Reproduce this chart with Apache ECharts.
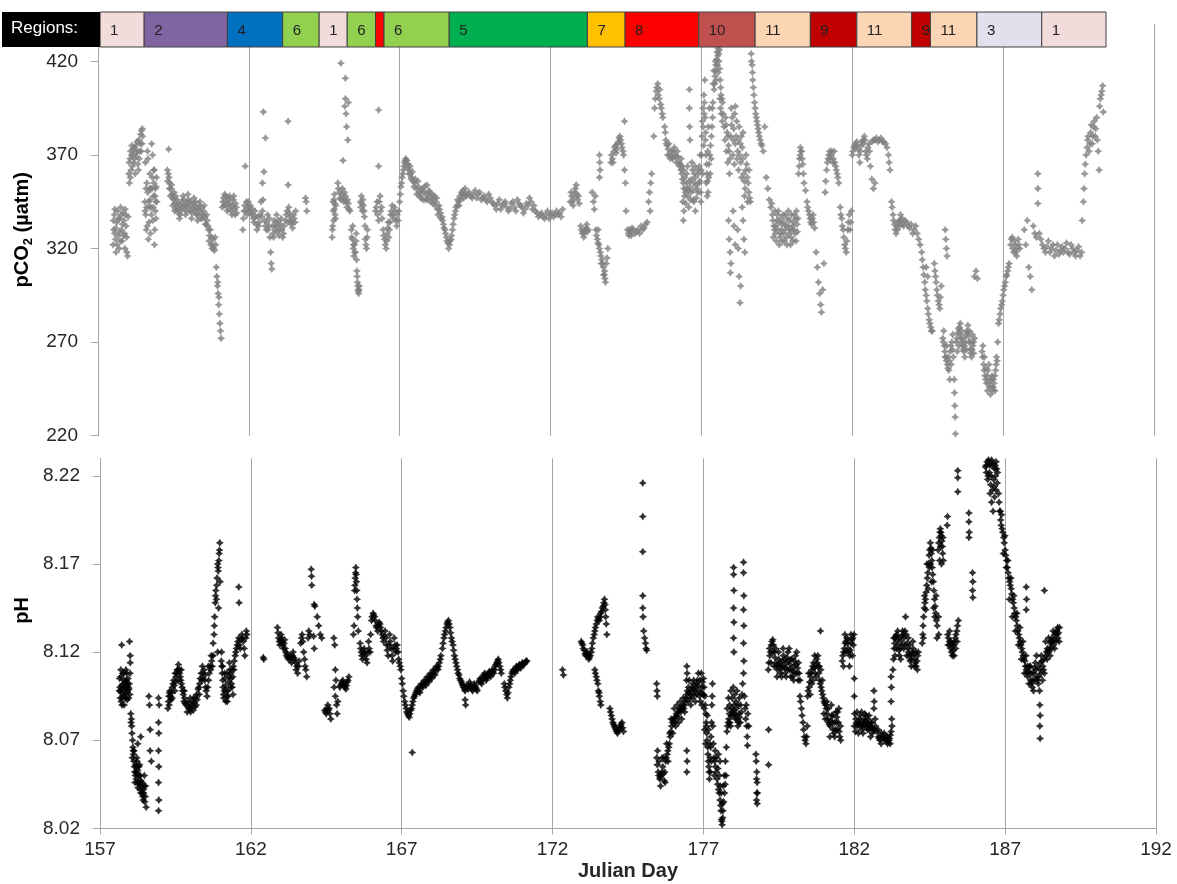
<!DOCTYPE html>
<html><head><meta charset="utf-8">
<script src="https://cdn.jsdelivr.net/npm/echarts@6/dist/echarts.min.js"></script>
<style>html,body{margin:0;padding:0;background:#fff}#c{width:1177px;height:884px}</style>
</head><body><div id="c"></div>
<script>
// ---------- data ----------
const xTicks = [157,162,167,172,177,182,187,192];
const pco2Ticks = [220,270,320,370,420];
const pco2AxisMax = 440;
const phTicks = [8.02,8.07,8.12,8.17,8.22];
const phAxisMax = 8.23;

const regionStart = [157.07,158.53,161.29,163.12,164.33,165.26,166.20,166.48,168.64,173.22,174.47,176.91,178.78,180.61,182.15,183.97,184.59,186.13,188.28];
const regionEnd   = [158.53,161.29,163.12,164.33,165.26,166.20,166.48,168.64,173.22,174.47,176.91,178.78,180.61,182.15,183.97,184.59,186.13,188.28,190.41];
const regionId    = [1,2,4,6,1,6,8,6,5,7,8,10,11,9,11,9,11,3,1];
const regionLabel = ['1','2','4','6','1','6','','6','5','7','8','10','11','9','11','9','11','3','1'];

const pco2Points = [
[157.50,322],[157.52,330],[157.54,338],[157.56,341],[157.58,325],[157.60,318],[157.62,334],[157.65,340],[157.68,327],[157.70,320],[157.72,336],[157.75,342],[157.78,330],[157.80,324],[157.83,339],[157.86,335],[157.88,328],[157.90,341],[157.93,332],[157.96,318],[157.98,316],[158.00,337],
[158.02,360],[158.04,355],[158.06,368],[158.08,372],[158.10,362],[158.12,375],[158.15,370],[158.18,366],[158.20,374],[158.23,360],[158.26,371],[158.29,377],[158.32,365],[158.35,378],[158.38,372],[158.41,381],[158.44,383],[158.46,376],[158.48,380],
[158.55,345],[158.58,338],[158.60,330],[158.62,355],[158.65,350],[158.67,325],[158.70,342],[158.72,360],[158.75,352],[158.78,376],[158.80,358],[158.82,335],[158.84,348],[158.86,362],[158.88,330],[158.90,340],[158.93,353],[158.95,345],
[159.34,373],[159.30,362],[159.35,358],[159.38,355],[159.42,352],[159.45,349],[159.48,347],[159.52,350],[159.55,344],[159.58,341],[159.62,346],[159.66,339],[159.70,336],[159.73,343],
[159.78,345],[159.82,348],[159.86,343],[159.90,338],[159.94,345],[159.98,349],[160.02,344],[160.06,340],[160.10,336],[160.14,342],[160.18,347],[160.22,343],[160.26,338],[160.30,335],[160.34,341],[160.38,345],[160.42,339],[160.46,336],[160.50,340],[160.55,337],[160.58,333],
[160.62,335],[160.66,330],[160.70,327],[160.74,322],[160.78,320],[160.82,325],[160.86,319],[160.90,322],
[160.92,310],[160.94,305],[160.96,300],[160.98,296],[161.00,290],[161.02,285],[161.04,280],[161.06,276],[161.08,272],[160.97,302],[161.01,294],
[161.12,342],[161.16,347],[161.20,349],[161.24,345],[161.28,340],[161.32,344],[161.36,348],[161.40,343],[161.44,338],[161.48,346],[161.52,341],[161.56,344],[161.60,339],
[161.88,364],[161.80,330],[161.84,340],[161.92,345],[161.96,342],[162.00,340],[162.05,343],[162.10,338],[162.15,336],[162.20,340],[162.25,333],[162.30,337],[162.35,334],
[162.48,393],[162.55,379],[162.50,361],[162.45,355],
[162.40,345],[162.45,340],[162.52,335],[162.58,330],[162.62,338],[162.66,332],[162.70,326],[162.72,318],[162.74,312],[162.76,309],[162.80,328],[162.84,335],[162.88,330],[162.92,338],[162.96,332],[163.00,327],[163.05,333],[163.10,330],[163.15,328],
[163.30,388],[163.30,354],[163.22,335],[163.27,340],[163.32,342],[163.36,337],[163.40,333],[163.45,331],[163.50,336],[163.55,340],
[163.90,345],[163.92,340],[163.88,347],
[164.76,326],[164.78,332],[164.80,340],[164.82,346],[164.84,349],[164.86,338],[164.88,343],
[165.05,419],[165.20,411],[165.18,396],[165.12,367],[165.20,400],[165.22,392],[165.24,385],[165.28,378],[165.30,398],
[164.95,355],[165.00,350],[165.05,346],[165.10,352],[165.15,345],[165.20,348],[165.25,342],[165.30,344],[165.35,340],
[165.40,330],[165.43,325],[165.46,320],[165.48,316],[165.50,322],[165.53,318],[165.56,328],[165.58,308],[165.60,302],[165.62,298],[165.64,296],[165.66,300],
[165.70,345],[165.73,348],[165.76,340],[165.80,343],[165.83,337],[165.86,325],[165.90,320],[165.93,330],
[166.30,394],[166.30,364],
[166.20,340],[166.25,345],[166.30,335],[166.35,348],[166.40,342],[166.45,330],[166.50,325],[166.55,320],[166.58,328],[166.62,334],[166.66,330],[166.70,338],[166.75,343],[166.80,336],[166.85,340],[166.90,332],[166.95,335],
[167.00,345],[167.04,353],[167.08,358],[167.12,362],[167.16,366],[167.20,368],[167.24,367],[167.28,365],
[167.32,362],[167.36,360],[167.40,358],[167.45,356],[167.50,355],[167.55,352],[167.60,356],[167.65,350],[167.70,347],[167.75,352],[167.80,350],[167.85,346],[167.90,354],[167.95,348],[168.00,350],
[168.05,347],[168.10,344],[168.15,348],[168.20,345],[168.25,341],[168.30,343],[168.35,339],[168.40,337],[168.45,333],
[168.50,330],[168.55,326],[168.60,323],[168.65,322],[168.70,325],[168.75,330],[168.80,336],[168.85,340],
[168.90,343],[168.95,345],[169.00,348],[169.05,350],[169.10,351],[169.15,349],
[169.20,348],[169.30,350],[169.40,347],[169.50,351],[169.60,349],[169.70,346],[169.80,348],[169.90,345],[170.00,347],
[170.10,344],[170.20,341],[170.30,346],[170.40,343],[170.50,345],[170.60,340],[170.70,344],[170.80,342],[170.90,346],[171.00,343],[171.10,339],[171.20,344],[171.30,347],[171.40,341],[171.50,340],
[171.60,337],[171.70,339],[171.80,336],[171.90,340],[172.00,338],[172.10,337],[172.20,340],[172.30,339],[172.40,341],
[172.65,345],[172.70,348],[172.75,343],[172.80,350],[172.85,354],[172.90,346],[172.95,344],
[173.00,332],[173.05,328],[173.10,326],[173.15,330],[173.20,333],[173.25,330],
[173.38,350],[173.42,345],[173.45,341],[173.48,348],
[173.50,330],[173.55,325],[173.60,322],[173.65,318],[173.70,314],[173.75,310],[173.78,306],[173.80,304],[173.85,312],[173.90,320],
[173.62,370],[173.63,366],[173.64,362],[173.62,358],
[174.00,366],[174.05,368],[174.10,372],[174.15,375],[174.20,373],[174.25,377],[174.30,380],[174.35,376],[174.40,372],[174.45,388],[174.45,362],[174.48,355],[174.50,340],
[174.55,330],[174.60,327],[174.65,329],[174.70,331],[174.80,328],[174.90,330],[175.00,332],[175.10,331],[175.20,334],
[175.25,345],[175.28,350],[175.32,355],[175.35,360],[175.30,340],
[175.45,395],[175.50,404],[175.55,408],[175.60,400],[175.65,397],[175.70,392],[175.72,390],
[175.78,385],[175.82,378],[175.86,375],[175.90,373],[175.95,370],[176.00,372],[176.05,368],[176.10,374],[176.15,369],[176.20,372],[176.25,366],
[176.30,365],[176.35,360],[176.40,355],[176.45,358],[176.50,352],[176.55,348],[176.60,356],[176.65,350],[176.70,362],[176.75,355],[176.80,358],[176.85,352],[176.90,360],[176.95,356],
[176.38,345],[176.40,335],[176.42,340],
[176.60,405],[176.60,395],[176.61,385],[176.62,378],
[177.02,380],[177.05,395],[177.08,402],[177.12,390],[177.15,370],[177.18,360],[177.22,350],[177.25,365],[177.30,375],[177.35,385],[177.38,398],
[177.42,405],[177.45,412],[177.48,418],[177.52,425],[177.55,427],[177.58,420],[177.62,410],[177.65,402],[177.70,398],
[177.80,390],[177.85,382],[177.90,375],[177.95,368],[178.00,386],[178.05,378],[178.10,392],[178.15,380],[178.20,372],[178.25,385],[178.30,366],[178.35,374],[178.40,360],[178.45,352],[178.50,365],[178.55,355],[178.60,347],
[177.90,335],[177.92,325],[177.95,318],[177.96,307],[177.98,312],[178.20,330],[178.22,320],[178.25,305],[178.28,291],[178.30,300],
[178.65,424],[178.68,418],[178.70,410],[178.74,402],[178.78,395],[178.82,390],[178.86,386],[178.90,382],[178.95,378],[179.00,375],[179.05,372],[179.10,385],
[179.15,358],[179.20,352],[179.25,346],[179.30,342],
[179.35,338],[179.40,332],[179.45,328],[179.50,335],[179.55,340],[179.60,326],[179.65,330],[179.70,338],[179.75,324],[179.80,332],[179.85,336],[179.90,328],[179.95,322],[180.00,330],[180.05,334],[180.10,328],[180.15,340],[180.20,336],
[180.22,360],[180.25,368],[180.28,374],[180.32,372],[180.36,365],[180.40,355],[180.45,351],
[180.50,345],[180.55,340],[180.60,336],[180.65,333],[180.70,338],[180.75,331],
[180.80,318],[180.84,310],[180.88,302],[180.92,296],[180.95,290],[180.98,286],[181.02,298],[181.06,312],
[181.10,350],[181.15,362],[181.20,368],[181.25,372],[181.30,370],[181.35,366],[181.40,372],[181.45,364],[181.50,360],[181.55,355],
[181.60,342],[181.65,336],[181.70,330],[181.75,322],[181.80,318],[181.85,330],[181.90,338],[181.95,334],
[182.00,370],[182.05,374],[182.10,376],[182.15,377],[182.20,373],[182.25,366],[182.30,375],[182.35,378],[182.40,380],[182.45,372],[182.50,368],[182.55,376],[182.60,364],[182.70,378],[182.80,379],[182.90,378],[183.00,377],[183.10,376],[183.20,370],[183.25,362],
[182.65,357],[182.70,352],[182.75,355],
[183.30,345],[183.35,338],[183.40,333],[183.45,328],[183.50,330],[183.55,335],[183.60,338],[183.65,336],[183.70,332],[183.80,334],[183.90,331],[184.00,328],[184.10,332],[184.20,325],
[184.30,318],[184.35,310],[184.40,302],[184.45,295],[184.50,288],[184.55,282],[184.60,278],[184.65,276],[184.45,310],[184.50,305],
[184.72,312],[184.76,305],[184.80,298],[184.85,292],[184.90,288],[184.95,300],
[185.00,272],[185.05,268],[185.10,262],[185.15,258],[185.20,255],[185.25,265],[185.30,270],[185.35,262],
[185.08,330],[185.10,325],[185.12,320],[185.14,316],
[185.38,250],[185.39,243],[185.40,236],[185.41,230],[185.42,221],
[185.45,270],[185.50,275],[185.55,278],[185.60,272],[185.65,268],[185.70,265],[185.75,270],[185.80,276],[185.85,273],[185.90,266],[185.95,262],[186.00,268],[186.05,272],
[186.05,305],[186.10,308],[186.15,304],
[186.30,265],[186.35,258],[186.40,252],[186.45,248],[186.50,255],[186.55,246],[186.60,250],[186.65,244],[186.70,248],[186.75,255],[186.80,260],
[186.85,280],[186.90,285],[186.95,290],[187.00,295],[187.05,300],[187.10,305],[187.15,308],[187.20,312],
[187.25,322],[187.30,326],[187.35,318],[187.40,322],[187.45,316],[187.50,325],[187.55,320],
[187.70,330],[187.75,322],[187.80,335],[187.85,310],[187.90,305],[187.95,298],[188.00,332],[188.05,328],[188.10,326],[188.15,360],[188.15,352],[188.15,344],
[188.20,328],[188.30,322],[188.40,318],[188.50,324],[188.60,320],[188.70,316],[188.80,322],[188.90,319],[189.00,318],[189.10,323],[189.20,317],[189.30,320],[189.40,316],[189.50,321],[189.60,318],
[189.62,335],[189.66,345],[189.70,360],[189.75,370],[189.80,378],[189.85,372],[189.90,382],[189.95,376],
[190.00,385],[190.05,380],[190.10,390],[190.15,372],[190.18,362],[190.20,396],[190.25,402],[190.30,407],[190.32,393],
[157.51,335],[157.55,328],[157.59,331],[157.63,322],[157.67,336],[157.71,329],[157.74,324],[157.77,338],[157.81,333],[157.85,327],[157.89,320],[157.92,338],[157.95,326],
[158.03,366],[158.07,358],[158.11,370],[158.14,364],[158.17,373],[158.21,368],[158.25,375],[158.28,369],[158.31,372],[158.34,362],[158.37,368],[158.40,376],[158.43,372],[158.47,384],
[158.57,366],[158.61,342],[158.64,372],[158.69,334],[158.73,346],[158.77,338],[158.81,370],[158.85,355],[158.89,348],[158.92,336],[158.94,358],[158.87,322],
[159.31,356],[159.33,360],[159.37,352],[159.40,348],[159.44,354],[159.47,343],[159.51,346],[159.54,340],[159.57,348],[159.61,342],[159.65,344],[159.69,341],[159.72,338],
[159.76,340],[159.80,342],[159.84,346],[159.88,341],[159.92,343],[159.96,340],[160.00,346],[160.04,342],[160.08,345],[160.12,339],[160.16,344],[160.20,340],[160.24,345],[160.28,341],[160.32,338],[160.36,343],[160.40,336],[160.44,342],[160.48,338],[160.52,343],[160.56,333],[160.60,338],
[160.64,332],[160.68,324],[160.72,330],[160.76,326],[160.80,322],[160.84,320],[160.88,326],
[161.14,345],[161.18,343],[161.22,348],[161.26,343],[161.30,347],[161.34,341],[161.38,346],[161.42,340],[161.46,343],[161.50,348],[161.54,338],[161.58,342],
[161.82,336],[161.86,343],[161.90,340],[161.94,338],[161.98,345],[162.02,342],[162.07,339],[162.12,341],[162.17,334],[162.22,337],[162.27,330],[162.32,332],[162.37,338],
[162.42,337],[162.47,346],[162.54,332],[162.60,334],[162.64,330],[162.68,336],[162.78,332],[162.82,326],[162.86,332],[162.90,334],[162.94,329],[162.98,335],[163.02,330],[163.07,336],[163.12,326],[163.17,332],
[163.24,338],[163.29,334],[163.34,339],[163.38,335],[163.43,334],[163.48,338],[163.53,334],
[164.77,330],[164.79,345],[164.81,335],[164.83,341],[164.85,344],[164.87,336],
[164.97,352],[165.02,347],[165.07,349],[165.12,347],[165.17,350],[165.22,345],[165.27,346],[165.32,341],
[165.41,326],[165.44,332],[165.47,322],[165.51,318],[165.55,324],[165.57,314],[165.59,305],[165.61,300],[165.63,297],[165.65,298],
[165.71,342],[165.74,344],[165.78,346],[165.82,340],[165.85,332],[165.88,322],[165.92,326],
[166.22,342],[166.27,338],[166.32,345],[166.37,340],[166.42,336],[166.47,327],[166.52,322],[166.57,324],[166.60,331],[166.64,326],[166.68,334],[166.72,340],[166.77,338],[166.82,342],[166.87,335],[166.92,338],[166.97,340],
[167.02,349],[167.06,355],[167.10,360],[167.14,364],[167.18,367],[167.22,365],[167.26,363],[167.30,360],[167.34,364],[167.38,357],[167.42,361],[167.47,353],[167.52,357],[167.57,349],[167.62,353],[167.67,348],[167.72,351],[167.77,346],[167.82,353],[167.87,349],[167.92,346],[167.97,351],
[168.02,345],[168.07,349],[168.12,346],[168.17,343],[168.22,347],[168.27,338],[168.32,341],[168.37,336],[168.42,335],[168.47,331],[168.52,328],[168.57,324],[168.62,320],[168.67,324],[168.72,327],[168.77,333],[168.82,338],[168.87,342],
[168.92,346],[168.97,343],[169.02,346],[169.07,349],[169.12,347],[169.17,352],[169.25,349],[169.35,348],[169.45,349],[169.55,347],[169.65,350],[169.75,347],[169.85,346],[169.95,349],
[170.05,345],[170.15,343],[170.25,344],[170.35,341],[170.45,344],[170.55,342],[170.65,341],[170.75,345],[170.85,340],[170.95,344],[171.05,342],[171.15,341],[171.25,343],[171.35,345],[171.45,343],
[171.55,339],[171.65,338],[171.75,337],[171.85,338],[171.95,336],[172.05,339],[172.15,338],[172.25,338],[172.35,337],
[172.68,350],[172.72,345],[172.78,347],[172.82,352],[172.88,349],[172.92,348],[173.02,330],[173.08,329],[173.12,328],[173.18,331],[173.22,329],
[173.52,327],[173.57,323],[173.62,320],[173.67,316],[173.72,312],[173.76,306],[173.79,308],[173.82,302],[173.87,315],[173.58,330],[173.68,312],
[174.02,370],[174.07,366],[174.12,374],[174.17,371],[174.22,376],[174.27,379],[174.32,378],[174.37,374],[174.42,370],
[174.58,328],[174.62,330],[174.68,327],[174.75,330],[174.85,329],[174.95,328],[175.05,330],[175.15,333],
[175.47,400],[175.52,406],[175.57,402],[175.62,405],[175.67,395],[175.42,380],
[175.80,382],[175.84,376],[175.88,370],[175.92,376],[175.97,368],[176.02,369],[176.07,372],[176.12,370],[176.17,366],[176.22,369],[176.27,364],
[176.32,362],[176.37,357],[176.42,352],[176.47,350],[176.52,355],[176.57,351],[176.62,353],[176.67,357],[176.72,351],[176.77,360],[176.82,354],[176.87,362],[176.92,355],[176.97,350],[176.75,345],[176.80,340],
[177.03,388],[177.07,375],[177.10,398],[177.14,382],[177.17,365],[177.20,356],[177.24,358],[177.28,370],[177.33,380],[177.37,390],
[177.44,408],[177.47,415],[177.50,421],[177.54,423],[177.57,424],[177.60,416],[177.64,406],[177.68,400],
[177.82,386],[177.88,380],[177.92,372],[177.97,380],[178.02,390],[178.07,384],[178.12,376],[178.17,388],[178.22,378],[178.27,370],[178.32,380],[178.37,368],[178.42,356],[178.47,362],[178.52,358],[178.57,350],[178.62,345],
[178.66,420],[178.69,414],[178.72,406],[178.76,398],[178.80,392],[178.84,388],[178.88,384],[178.92,380],[178.98,376],
[179.37,335],[179.42,330],[179.47,332],[179.52,338],[179.57,334],[179.62,328],[179.67,333],[179.72,328],[179.77,330],[179.82,326],[179.87,332],[179.92,335],[179.97,326],[180.02,332],[180.07,330],[180.12,336],[180.17,333],
[180.24,364],[180.27,370],[180.30,372],[180.34,368],[180.38,360],[180.52,342],[180.58,338],[180.62,334],[180.68,336],[180.72,334],
[181.12,356],[181.17,366],[181.22,370],[181.27,368],[181.32,372],[181.37,368],[181.42,366],[181.47,362],[181.52,358],
[181.62,338],[181.67,332],[181.72,326],[181.77,320],[181.82,324],[181.87,334],[181.92,330],[181.97,340],
[182.02,372],[182.07,375],[182.12,374],[182.17,375],[182.22,370],[182.27,372],[182.32,377],[182.37,376],[182.42,378],[182.47,370],[182.52,374],[182.57,372],[182.65,377],[182.75,378],[182.85,377],[182.95,379],[183.05,377],[183.15,374],[183.22,366],
[183.32,342],[183.37,335],[183.42,330],[183.47,332],[183.52,334],[183.57,332],[183.62,335],[183.67,333],[183.75,335],[183.85,332],[183.95,333],[184.05,330],[184.15,328],[184.25,322],
[184.32,314],[184.37,306],[184.42,298],[184.47,292],[184.52,285],[184.57,280],[184.62,276],[184.74,308],[184.78,302],[184.82,295],[184.88,290],[184.92,294],
[185.02,270],[185.07,265],[185.12,260],[185.17,256],[185.22,260],[185.27,268],[185.32,266],
[185.47,272],[185.52,277],[185.57,274],[185.62,270],[185.67,266],[185.72,268],[185.77,274],[185.82,275],[185.87,270],[185.92,264],[185.97,266],[186.02,270],
[186.32,262],[186.37,255],[186.42,250],[186.47,252],[186.52,248],[186.57,250],[186.62,246],[186.67,246],[186.72,252],[186.77,258],
[186.87,282],[186.92,288],[186.97,292],[187.02,298],[187.07,302],[187.12,306],[187.17,310],
[187.27,325],[187.32,320],[187.37,324],[187.42,318],[187.47,320],[187.52,322],
[188.25,325],[188.35,320],[188.45,321],[188.55,318],[188.65,322],[188.75,319],[188.85,317],[188.95,321],[189.05,320],[189.15,318],[189.25,322],[189.35,318],[189.45,319],[189.55,316],
[189.68,352],[189.72,365],[189.78,374],[189.82,380],[189.88,376],[189.92,386],[189.97,380],[190.02,388],[190.07,384],[190.12,378],[190.22,400],[190.27,404],
[176.33,368],[176.36,364],[176.41,362],[176.44,348],[176.48,344],[176.51,360],[176.54,364],[176.58,342],[176.63,346],[176.68,366],[176.73,346],[176.78,364],[176.83,347],[176.88,350],[176.93,364],[176.98,345],[176.96,370],[176.99,362],
[177.01,370],[177.04,360],[177.06,385],[177.09,392],[177.11,410],[177.13,378],[177.16,355],[177.19,348],[177.21,372],[177.23,385],[177.26,395],[177.29,360],[177.32,368],[177.36,395],[177.39,408],[177.41,415],[177.46,420],[177.49,410],[177.53,418],[177.56,414],[177.59,426],[177.61,400],[177.63,395],[177.66,392],[177.69,388],[177.72,392],[177.75,385],[177.78,378],[177.83,372],[177.87,366],[177.93,360],[177.99,395],[178.04,370],[178.09,365],[178.13,396],[178.18,368],[178.23,362],[178.29,376],[178.33,358],[178.38,382],[178.43,348],[178.48,370],[178.53,345],[178.58,362],[178.05,340],[178.08,332],[178.12,322],[178.35,342],[178.38,335],[178.41,325],[178.44,318],
[179.33,344],[179.38,326],[179.43,340],[179.48,324],[179.53,330],[179.58,322],[179.63,336],[179.68,324],[179.73,334],[179.78,338],[179.83,322],[179.88,340],[179.93,330],[179.98,338],[180.03,324],[180.08,338],[180.13,324],[180.18,329],
[185.03,276],[185.08,262],[185.13,268],[185.18,262],[185.23,250],[185.28,258],[185.33,274],[185.48,265],[185.53,268],[185.58,280],[185.63,276],[185.68,272],[185.73,262],[185.78,266],[185.83,279],[185.88,276],[185.93,270],[185.98,274],[186.03,264],[186.33,268],[186.38,262],[186.43,256],[186.48,244],[186.53,258],[186.58,242],[186.63,252],[186.68,250],[186.73,244],[186.78,262],[186.82,270],
[158.56,340],[158.59,352],[158.63,332],[158.66,368],[158.68,345],[158.71,352],[158.74,328],[158.76,342],[158.79,352],[158.83,342],[158.85,362],[158.90,352],[158.92,345]
];

const phPoints = [
[157.65,8.105],[157.68,8.098],[157.70,8.092],[157.72,8.101],[157.75,8.108],[157.78,8.095],[157.80,8.090],[157.83,8.103],[157.86,8.110],[157.88,8.097],[157.90,8.093],[157.93,8.105],[157.96,8.099],[158.00,8.108],[157.72,8.124],[157.98,8.126],[158.00,8.118],[158.00,8.114],
[158.02,8.085],[158.05,8.078],[158.08,8.070],[158.10,8.064],[158.12,8.058],[158.15,8.052],[158.18,8.056],[158.20,8.048],[158.22,8.060],[158.25,8.053],[158.28,8.045],[158.30,8.050],[158.33,8.042],[158.36,8.047],[158.40,8.040],[158.43,8.036],[158.46,8.044],[158.50,8.038],[158.53,8.032],[158.25,8.068],[158.35,8.072],
[158.62,8.095],[158.64,8.090],[158.66,8.076],[158.66,8.064],[158.70,8.058],[158.94,8.094],[158.96,8.090],[158.94,8.080],[158.95,8.074],[158.94,8.064],[158.95,8.055],[158.94,8.046],[158.95,8.036],[158.94,8.030],
[159.25,8.088],[159.28,8.095],[159.32,8.098],[159.36,8.093],[159.40,8.100],[159.44,8.104],[159.48,8.098],[159.52,8.106],[159.56,8.110],[159.60,8.113],[159.64,8.108],[159.68,8.104],[159.72,8.100],[159.76,8.096],[159.80,8.094],[159.85,8.090],
[159.90,8.092],[159.95,8.088],[160.00,8.086],[160.05,8.090],[160.10,8.094],[160.15,8.089],[160.20,8.096],[160.25,8.099],
[160.30,8.102],[160.35,8.108],[160.40,8.105],[160.45,8.110],[160.50,8.100],[160.55,8.095],[160.60,8.104],[160.65,8.112],[160.70,8.115],[160.75,8.118],
[160.75,8.125],[160.78,8.130],[160.80,8.140],[160.82,8.148],[160.84,8.155],[160.86,8.150],[160.88,8.162],[160.90,8.170],[160.92,8.166],[160.95,8.176],[160.97,8.182],[160.93,8.145],[160.90,8.120],
[161.02,8.115],[161.05,8.108],[161.08,8.100],[161.10,8.094],[161.14,8.105],[161.18,8.098],[161.22,8.092],[161.26,8.103],[161.30,8.110],[161.34,8.105],[161.38,8.100],[161.42,8.112],
[161.45,8.115],[161.50,8.120],[161.55,8.124],[161.60,8.128],[161.65,8.122],[161.70,8.130],[161.75,8.126],[161.80,8.118],[161.85,8.132],[161.60,8.157],[161.61,8.148],
[162.43,8.116],[162.41,8.117],
[162.88,8.134],[162.92,8.128],[162.96,8.124],[163.00,8.130],[163.04,8.126],[163.08,8.122],[163.12,8.127],[163.16,8.120],
[163.20,8.119],[163.25,8.116],[163.30,8.118],[163.35,8.114],[163.40,8.120],[163.45,8.116],[163.50,8.110],[163.55,8.108],[163.60,8.115],
[163.65,8.125],[163.70,8.130],[163.75,8.120],[163.80,8.112],[163.85,8.106],[163.90,8.128],[163.95,8.130],
[164.00,8.167],[164.01,8.163],[164.02,8.158],
[164.10,8.147],[164.12,8.146],[164.08,8.129],[164.10,8.122],
[164.20,8.140],[164.25,8.135],[164.30,8.130],[164.35,8.128],
[164.45,8.087],[164.50,8.085],[164.55,8.090],[164.60,8.088],[164.65,8.082],
[164.75,8.128],[164.78,8.124],[164.80,8.110],[164.82,8.104],[164.76,8.100],[164.80,8.095],[164.84,8.090],[164.86,8.085],[164.88,8.092],
[164.95,8.100],[165.00,8.102],[165.05,8.104],[165.10,8.101],[165.15,8.099],[165.20,8.103],[165.25,8.106],
[165.40,8.130],[165.42,8.135],[165.44,8.155],[165.46,8.162],[165.48,8.168],[165.50,8.160],[165.52,8.150],[165.54,8.140],[165.56,8.132],
[165.62,8.125],[165.66,8.120],[165.70,8.116],[165.75,8.122],[165.80,8.118],[165.85,8.114],[165.90,8.126],[165.95,8.120],
[166.00,8.138],[166.05,8.142],[166.10,8.140],[166.15,8.135],[166.20,8.132],[166.25,8.137],[166.30,8.134],[166.35,8.130],
[166.40,8.126],[166.45,8.132],[166.50,8.124],[166.55,8.118],[166.60,8.130],[166.65,8.122],[166.70,8.115],[166.75,8.128],[166.80,8.120],[166.85,8.124],[166.90,8.116],[166.95,8.112],
[167.00,8.105],[167.05,8.098],[167.10,8.092],[167.15,8.088],[167.20,8.085],[167.25,8.083],[167.30,8.087],[167.35,8.090],[167.40,8.094],[167.45,8.096],
[167.35,8.063],
[167.50,8.098],[167.55,8.100],[167.60,8.097],[167.65,8.102],[167.70,8.100],[167.75,8.104],[167.80,8.101],[167.85,8.106],[167.90,8.103],[167.95,8.108],[168.00,8.105],[168.05,8.110],[168.10,8.107],[168.15,8.112],[168.20,8.110],[168.25,8.114],[168.30,8.118],
[168.35,8.122],[168.40,8.128],[168.45,8.132],[168.50,8.136],[168.55,8.138],[168.60,8.134],[168.65,8.128],[168.70,8.124],[168.75,8.118],[168.80,8.114],[168.85,8.110],
[168.90,8.107],[168.95,8.104],[169.00,8.102],[169.05,8.100],[169.10,8.098],[169.15,8.101],[169.20,8.099],[169.25,8.103],[169.30,8.100],[169.35,8.098],[169.40,8.102],[169.45,8.100],[169.50,8.098],[169.10,8.093],[169.12,8.090],
[169.55,8.103],[169.60,8.105],[169.65,8.102],[169.70,8.106],[169.75,8.108],[169.80,8.104],[169.85,8.107],[169.90,8.109],[169.95,8.106],[170.00,8.110],[170.05,8.108],[170.10,8.112],[170.15,8.114],[170.20,8.116],[170.25,8.112],[170.30,8.108],
[170.40,8.102],[170.45,8.098],[170.50,8.094],[170.55,8.100],[170.60,8.104],[170.65,8.108],
[170.70,8.110],[170.75,8.108],[170.80,8.112],[170.85,8.110],[170.90,8.113],[170.95,8.111],[171.00,8.114],[171.05,8.113],[171.10,8.114],[171.15,8.115],
[172.33,8.110],[172.36,8.107],
[172.95,8.126],[173.00,8.124],[173.05,8.121],[173.10,8.118],[173.15,8.120],[173.20,8.116],[173.25,8.118],[173.30,8.122],
[173.35,8.128],[173.40,8.132],[173.45,8.136],[173.50,8.140],[173.55,8.138],[173.60,8.142],[173.65,8.145],[173.70,8.148],[173.72,8.150],[173.75,8.144],[173.78,8.136],[173.80,8.130],
[173.40,8.110],[173.45,8.106],[173.50,8.102],[173.52,8.098],[173.55,8.095],[173.60,8.090],
[173.90,8.088],[173.95,8.084],[174.00,8.080],[174.05,8.078],[174.10,8.076],[174.15,8.074],[174.20,8.076],[174.25,8.078],[174.30,8.080],[174.35,8.075],
[174.99,8.216],[174.99,8.197],[174.99,8.177],[174.99,8.152],[174.99,8.145],[175.00,8.140],[175.02,8.132],[175.05,8.128],[175.08,8.125],[175.10,8.122],[175.12,8.121],
[175.45,8.102],[175.46,8.098],[175.47,8.095],
[175.45,8.060],[175.50,8.052],[175.55,8.048],[175.60,8.050],[175.65,8.055],[175.70,8.047],[175.75,8.058],[175.80,8.062],[175.85,8.066],
[175.90,8.072],[175.95,8.078],[176.00,8.082],[176.05,8.080],[176.10,8.085],[176.15,8.083],[176.20,8.088],[176.25,8.086],[176.30,8.090],[176.35,8.088],[176.40,8.092],
[176.45,8.096],[176.50,8.100],[176.55,8.094],[176.60,8.098],[176.65,8.102],[176.70,8.096],[176.75,8.100],[176.80,8.104],[176.85,8.098],[176.90,8.092],[176.95,8.100],
[176.45,8.112],[176.46,8.108],[176.45,8.064],[176.46,8.058],[176.45,8.052],
[177.00,8.105],[177.05,8.095],[177.08,8.085],[177.10,8.078],[177.12,8.070],[177.15,8.062],[177.18,8.055],[177.20,8.048],[177.22,8.060],[177.25,8.072],[177.28,8.090],[177.30,8.102],
[177.35,8.060],[177.40,8.055],[177.45,8.048],[177.50,8.042],[177.55,8.036],[177.58,8.030],[177.60,8.025],[177.62,8.022],[177.65,8.030],[177.70,8.040],[177.75,8.050],[177.50,8.062],[177.55,8.058],
[177.78,8.075],[177.82,8.080],[177.86,8.085],[177.90,8.078],[177.94,8.088],[177.98,8.084],[178.02,8.090],[178.06,8.082],[178.10,8.088],[178.14,8.078],[178.18,8.085],[178.22,8.080],
[178.00,8.168],[178.00,8.164],[178.01,8.155],[178.00,8.145],[178.01,8.137],[178.00,8.128],[178.01,8.120],
[178.33,8.171],[178.33,8.165],[178.34,8.152],[178.33,8.144],[178.34,8.135],[178.33,8.125],[178.34,8.115],[178.33,8.108],
[178.45,8.072],[178.46,8.067],[178.44,8.078],
[178.75,8.058],[178.77,8.052],[178.78,8.046],[178.77,8.040],[178.78,8.034],
[179.15,8.110],[179.20,8.118],[179.25,8.124],[179.30,8.127],[179.35,8.120],[179.40,8.114],[179.45,8.110],[179.50,8.116],[179.55,8.108],
[179.16,8.076],[179.16,8.056],
[179.60,8.112],[179.65,8.118],[179.70,8.108],[179.75,8.114],[179.80,8.120],[179.85,8.110],[179.90,8.116],[179.95,8.106],[180.00,8.112],[180.05,8.118],[180.10,8.108],[180.15,8.114],[180.20,8.104],
[180.20,8.095],[180.25,8.088],[180.30,8.080],[180.35,8.072],[180.40,8.068],[180.44,8.078],
[180.45,8.095],[180.50,8.100],[180.55,8.106],[180.60,8.110],[180.65,8.114],[180.70,8.108],[180.75,8.116],[180.80,8.112],[180.85,8.104],[180.90,8.100],[180.95,8.096],[181.00,8.092],[180.88,8.132],
[181.05,8.090],[181.10,8.085],[181.15,8.080],[181.20,8.078],[181.25,8.084],[181.30,8.076],[181.35,8.072],[181.40,8.080],[181.45,8.086],[181.50,8.075],[181.55,8.070],
[181.60,8.115],[181.65,8.120],[181.70,8.125],[181.75,8.128],[181.80,8.122],[181.85,8.118],[181.90,8.125],[181.95,8.128],
[182.00,8.105],[182.00,8.095],[182.01,8.085],[182.00,8.078],
[182.05,8.082],[182.10,8.078],[182.15,8.080],[182.20,8.084],[182.25,8.076],[182.30,8.080],[182.35,8.085],[182.40,8.078],[182.45,8.082],[182.50,8.076],[182.55,8.080],[182.60,8.074],[182.70,8.078],[182.80,8.072],[182.85,8.070],[182.90,8.074],[183.00,8.070],[183.05,8.072],[183.10,8.068],[183.15,8.070],[183.20,8.073],[183.25,8.078],
[182.65,8.098],[182.66,8.092],[182.65,8.088],
[183.22,8.092],[183.23,8.100],[183.22,8.106],
[183.28,8.110],[183.32,8.122],[183.36,8.128],[183.40,8.130],[183.45,8.124],[183.50,8.118],[183.55,8.126],[183.60,8.132],[183.65,8.128],[183.70,8.140],[183.75,8.125],[183.80,8.120],[183.85,8.115],[183.90,8.118],[183.95,8.122],[184.00,8.116],[184.05,8.112],[184.10,8.118],
[184.25,8.125],[184.28,8.135],[184.32,8.145],[184.36,8.150],[184.40,8.158],[184.44,8.165],[184.48,8.175],[184.52,8.182],[184.55,8.176],[184.58,8.168],[184.62,8.160],[184.66,8.150],[184.70,8.142],[184.75,8.135],[184.80,8.130],
[184.78,8.178],[184.82,8.185],[184.85,8.190],[184.88,8.186],[184.92,8.180],[184.95,8.172],[185.09,8.197],[185.08,8.192],
[185.10,8.130],[185.15,8.126],[185.20,8.122],[185.25,8.118],[185.30,8.124],[185.35,8.128],[185.40,8.132],[185.45,8.138],
[185.43,8.223],[185.43,8.219],[185.43,8.211],
[185.80,8.199],[185.80,8.194],[185.81,8.188],[185.80,8.185],
[185.92,8.165],[185.93,8.160],[185.92,8.155],[185.93,8.151],
[186.35,8.225],[186.40,8.228],[186.45,8.229],[186.50,8.226],[186.55,8.229],[186.60,8.227],[186.65,8.224],[186.70,8.228],[186.75,8.222],[186.42,8.218],[186.52,8.215],[186.62,8.218],
[186.50,8.210],[186.55,8.205],[186.60,8.200],[186.65,8.208],[186.70,8.212],
[186.80,8.205],[186.85,8.195],[186.90,8.190],[186.95,8.185],[187.00,8.178],[187.05,8.172],[187.10,8.165],[187.15,8.160],[187.20,8.156],
[187.25,8.150],[187.30,8.145],[187.35,8.140],[187.40,8.135],[187.45,8.130],[187.50,8.126],[187.55,8.122],[187.60,8.118],
[187.65,8.115],[187.70,8.110],[187.75,8.106],[187.80,8.112],[187.85,8.104],[187.90,8.100],[187.95,8.108],[188.00,8.114],[188.05,8.106],[188.10,8.102],[188.15,8.110],[188.20,8.118],[188.25,8.112],[188.30,8.108],
[187.70,8.157],[187.71,8.150],[187.70,8.144],
[188.15,8.090],[188.16,8.084],[188.15,8.078],[188.16,8.071],
[188.30,8.155],
[188.35,8.118],[188.40,8.122],[188.45,8.120],[188.50,8.125],[188.55,8.128],[188.60,8.124],[188.65,8.130],[188.70,8.132],[188.75,8.128],[188.80,8.134],
[157.66,8.100],[157.69,8.106],[157.71,8.097],[157.74,8.094],[157.77,8.102],[157.79,8.108],[157.82,8.096],[157.84,8.100],[157.87,8.104],[157.89,8.101],[157.92,8.098],[157.95,8.094],[157.97,8.102],
[158.03,8.080],[158.06,8.074],[158.09,8.066],[158.11,8.062],[158.14,8.055],[158.17,8.050],[158.19,8.052],[158.21,8.055],[158.24,8.046],[158.27,8.050],[158.29,8.055],[158.32,8.046],[158.35,8.040],[158.38,8.044],[158.42,8.038],[158.45,8.040],[158.48,8.035],
[159.27,8.092],[159.30,8.097],[159.34,8.095],[159.38,8.097],[159.42,8.102],[159.46,8.101],[159.50,8.103],[159.54,8.108],[159.58,8.110],[159.62,8.110],[159.66,8.106],[159.70,8.102],[159.74,8.098],[159.78,8.092],[159.82,8.091],
[159.92,8.089],[159.97,8.091],[160.02,8.088],[160.07,8.092],[160.12,8.091],[160.17,8.094],[160.22,8.093],[160.28,8.100],[160.32,8.105],[160.38,8.104],[160.42,8.108],[160.47,8.104],[160.52,8.098],[160.57,8.100],[160.62,8.108],[160.67,8.110],[160.72,8.112],
[160.79,8.135],[160.83,8.152],[160.87,8.158],[160.91,8.168],[160.94,8.172],[160.96,8.178],[160.98,8.160],
[161.04,8.112],[161.07,8.104],[161.12,8.098],[161.16,8.101],[161.20,8.095],[161.24,8.098],[161.28,8.106],[161.32,8.108],[161.36,8.102],[161.40,8.106],[161.44,8.110],
[161.48,8.118],[161.52,8.122],[161.57,8.126],[161.62,8.124],[161.67,8.127],[161.72,8.128],[161.78,8.122],[161.83,8.128],[161.87,8.130],
[162.90,8.131],[162.94,8.126],[162.98,8.127],[163.02,8.128],[163.06,8.124],[163.10,8.125],[163.14,8.122],[163.18,8.118],[163.22,8.117],[163.28,8.117],[163.32,8.116],[163.38,8.118],[163.42,8.117],[163.48,8.114],[163.52,8.112],[163.58,8.112],[163.68,8.128],[163.72,8.126],[163.78,8.116],[163.82,8.110],[163.92,8.132],
[164.47,8.086],[164.52,8.088],[164.57,8.087],[164.62,8.085],
[164.97,8.101],[165.02,8.103],[165.07,8.102],[165.12,8.100],[165.17,8.101],[165.22,8.104],
[165.45,8.158],[165.47,8.165],[165.49,8.164],[165.51,8.155],[165.53,8.145],
[165.64,8.122],[165.68,8.118],[165.72,8.119],[165.78,8.120],[165.82,8.116],[165.88,8.120],[165.92,8.122],[165.97,8.130],[166.02,8.140],[166.07,8.141],[166.12,8.138],[166.17,8.134],[166.22,8.135],[166.28,8.136],[166.32,8.132],[166.38,8.128],[166.42,8.129],[166.48,8.128],[166.52,8.121],[166.58,8.124],[166.62,8.126],[166.68,8.118],[166.72,8.122],[166.78,8.124],[166.82,8.122],[166.88,8.120],[166.92,8.114],[166.97,8.110],
[167.02,8.102],[167.07,8.095],[167.12,8.090],[167.17,8.086],[167.22,8.084],[167.27,8.085],[167.32,8.088],[167.37,8.092],[167.42,8.095],[167.47,8.097],
[167.52,8.099],[167.58,8.098],[167.62,8.100],[167.68,8.101],[167.72,8.102],[167.78,8.102],[167.82,8.104],[167.88,8.104],[167.92,8.106],[167.98,8.106],[168.02,8.108],[168.08,8.108],[168.12,8.110],[168.18,8.111],[168.22,8.112],[168.28,8.116],
[168.37,8.125],[168.42,8.130],[168.47,8.134],[168.52,8.137],[168.57,8.136],[168.62,8.131],[168.67,8.126],[168.72,8.121],[168.77,8.116],[168.82,8.112],[168.87,8.108],
[168.92,8.105],[168.98,8.103],[169.02,8.101],[169.08,8.099],[169.18,8.100],[169.22,8.101],[169.28,8.101],[169.32,8.099],[169.38,8.100],[169.42,8.101],[169.48,8.099],
[169.58,8.104],[169.62,8.103],[169.68,8.104],[169.72,8.107],[169.78,8.106],[169.82,8.105],[169.88,8.108],[169.92,8.107],[169.98,8.108],[170.02,8.109],[170.08,8.110],[170.12,8.113],[170.18,8.115],[170.22,8.114],[170.28,8.110],
[170.42,8.100],[170.48,8.096],[170.52,8.097],[170.58,8.102],[170.62,8.106],[170.68,8.109],[170.72,8.109],[170.78,8.110],[170.82,8.111],[170.88,8.112],[170.92,8.112],[170.98,8.113],[171.02,8.113],[171.08,8.114],[171.12,8.115],
[172.97,8.125],[173.02,8.122],[173.08,8.119],[173.12,8.119],[173.18,8.118],[173.22,8.117],[173.28,8.120],[173.32,8.125],[173.38,8.130],[173.42,8.134],[173.48,8.138],[173.52,8.139],[173.58,8.140],[173.62,8.143],[173.68,8.146],[173.74,8.147],[173.76,8.140],
[173.42,8.108],[173.47,8.104],[173.54,8.097],[173.58,8.092],[173.92,8.086],[173.97,8.082],[174.02,8.079],[174.07,8.077],[174.12,8.075],[174.17,8.075],[174.22,8.077],[174.27,8.079],[174.32,8.077],
[175.47,8.056],[175.52,8.050],[175.57,8.049],[175.62,8.052],[175.67,8.051],[175.72,8.052],[175.77,8.060],[175.82,8.064],[175.87,8.068],[175.92,8.075],[175.97,8.080],[176.02,8.081],[176.07,8.083],[176.12,8.084],[176.17,8.086],[176.22,8.087],[176.27,8.088],[176.32,8.089],[176.37,8.090],[176.42,8.094],[176.47,8.098],[176.52,8.097],[176.57,8.096],[176.62,8.100],[176.67,8.099],[176.72,8.098],[176.77,8.102],[176.82,8.101],[176.87,8.095],[176.92,8.097],[176.97,8.103],
[177.02,8.100],[177.06,8.090],[177.09,8.080],[177.11,8.074],[177.14,8.066],[177.16,8.058],[177.19,8.052],[177.24,8.066],[177.27,8.080],[177.29,8.095],[177.37,8.058],[177.42,8.052],[177.47,8.045],[177.52,8.040],[177.57,8.033],[177.61,8.024],[177.64,8.026],[177.67,8.035],[177.72,8.045],[177.80,8.078],[177.84,8.082],[177.88,8.080],[177.92,8.084],[177.96,8.086],[178.00,8.087],[178.04,8.085],[178.08,8.084],[178.12,8.082],[178.16,8.080],[178.20,8.083],
[179.17,8.114],[179.22,8.120],[179.27,8.126],[179.32,8.124],[179.37,8.117],[179.42,8.112],[179.47,8.113],[179.52,8.112],[179.57,8.110],[179.62,8.115],[179.67,8.112],[179.72,8.111],[179.77,8.117],[179.82,8.115],[179.87,8.113],[179.92,8.110],[179.97,8.109],[180.02,8.115],[180.07,8.113],[180.12,8.111],[180.17,8.108],
[180.22,8.092],[180.27,8.084],[180.32,8.076],[180.37,8.070],[180.42,8.072],[180.47,8.098],[180.52,8.103],[180.57,8.108],[180.62,8.112],[180.67,8.111],[180.72,8.112],[180.77,8.114],[180.82,8.108],[180.87,8.102],[180.92,8.098],[180.97,8.094],[181.02,8.091],[181.07,8.088],[181.12,8.082],[181.17,8.079],[181.22,8.081],[181.27,8.080],[181.32,8.074],[181.37,8.076],[181.42,8.083],[181.47,8.080],[181.52,8.072],
[181.62,8.118],[181.67,8.122],[181.72,8.126],[181.77,8.125],[181.82,8.120],[181.87,8.121],[181.92,8.127],[181.97,8.124],
[182.07,8.080],[182.12,8.079],[182.17,8.082],[182.22,8.080],[182.27,8.078],[182.32,8.082],[182.37,8.081],[182.42,8.080],[182.47,8.079],[182.52,8.078],[182.57,8.077],[182.62,8.076],[182.67,8.076],[182.75,8.075],[182.82,8.071],[182.87,8.072],[182.95,8.072],[183.02,8.071],[183.07,8.070],[183.12,8.069],[183.17,8.071],[183.22,8.075],
[183.30,8.116],[183.34,8.125],[183.38,8.129],[183.42,8.127],[183.48,8.121],[183.52,8.122],[183.58,8.129],[183.62,8.130],[183.68,8.132],[183.72,8.130],[183.78,8.122],[183.82,8.118],[183.88,8.116],[183.92,8.120],[183.98,8.119],[184.02,8.114],[184.08,8.115],[184.12,8.120],
[184.27,8.130],[184.30,8.140],[184.34,8.148],[184.38,8.154],[184.42,8.162],[184.46,8.170],[184.50,8.178],[184.54,8.179],[184.57,8.172],[184.60,8.164],[184.64,8.155],[184.68,8.146],[184.72,8.138],[184.80,8.182],[184.84,8.188],[184.87,8.188],[184.90,8.183],[184.93,8.176],
[185.12,8.128],[185.17,8.124],[185.22,8.120],[185.27,8.121],[185.32,8.126],[185.37,8.130],[185.42,8.135],
[186.37,8.226],[186.47,8.227],[186.57,8.226],[186.67,8.226],[186.72,8.224],[186.82,8.200],[186.87,8.192],[186.92,8.188],[186.97,8.182],[187.02,8.175],[187.07,8.168],[187.12,8.162],[187.17,8.158],[187.22,8.153],[187.27,8.148],[187.32,8.142],[187.37,8.138],[187.42,8.132],[187.47,8.128],[187.52,8.124],[187.57,8.120],
[187.62,8.116],[187.67,8.112],[187.72,8.108],[187.77,8.109],[187.82,8.108],[187.87,8.102],[187.92,8.104],[187.97,8.111],[188.02,8.110],[188.07,8.104],[188.12,8.106],[188.17,8.114],[188.22,8.115],[188.27,8.110],[188.37,8.120],[188.42,8.121],[188.47,8.122],[188.52,8.126],[188.57,8.126],[188.62,8.127],[188.67,8.131],[188.72,8.130],[188.77,8.131],
[157.64,8.098],[157.67,8.094],[157.69,8.110],[157.73,8.090],[157.76,8.099],[157.79,8.104],[157.81,8.100],[157.85,8.094],[157.88,8.108],[157.91,8.102],[157.94,8.100],[157.99,8.096],
[158.04,8.082],[158.07,8.060],[158.13,8.064],[158.16,8.046],[158.23,8.058],[158.26,8.043],[158.31,8.056],[158.34,8.050],[158.39,8.046],[158.44,8.042],[158.47,8.050],[158.51,8.044],
[176.44,8.104],[176.49,8.092],[176.53,8.104],[176.58,8.090],[176.63,8.094],[176.68,8.104],[176.73,8.092],[176.78,8.096],[176.83,8.108],[176.88,8.104],[176.93,8.108],[176.98,8.096],[176.95,8.090],
[177.01,8.096],[177.03,8.088],[177.04,8.076],[177.07,8.068],[177.13,8.084],[177.17,8.076],[177.21,8.068],[177.23,8.052],[177.26,8.058],[177.31,8.078],[177.33,8.068],[177.36,8.050],[177.39,8.064],[177.43,8.060],[177.48,8.054],[177.53,8.050],[177.56,8.044],[177.59,8.040],[177.63,8.034],[177.66,8.044],[177.69,8.050],[177.73,8.058],[177.76,8.066],[177.79,8.088],[177.83,8.094],[177.87,8.090],[177.91,8.098],[177.95,8.094],[177.99,8.100],[178.03,8.096],[178.07,8.092],[178.11,8.098],[178.15,8.090],[178.19,8.094],[178.23,8.090],[178.26,8.086],[178.28,8.096],[178.30,8.102],[178.36,8.095],[178.38,8.088],[178.40,8.082],[178.42,8.090],[178.47,8.085],[178.50,8.078],
[178.74,8.062],[178.76,8.048],[178.79,8.040],[178.76,8.036],
[179.19,8.122],[179.24,8.114],[179.29,8.120],[179.34,8.112],[179.39,8.122],[179.44,8.106],[179.49,8.120],[179.54,8.114],[179.59,8.106],[179.64,8.122],[179.69,8.116],[179.74,8.106],[179.79,8.110],[179.84,8.122],[179.89,8.106],[179.94,8.116],[179.99,8.104],[180.04,8.108],[180.09,8.120],[180.14,8.104],
[180.49,8.108],[180.54,8.096],[180.59,8.102],[180.64,8.104],[180.69,8.118],[180.74,8.106],[180.79,8.118],[180.84,8.112],[180.89,8.110],[180.94,8.104],[180.99,8.085],[181.04,8.082],[181.09,8.092],[181.14,8.088],[181.19,8.072],[181.24,8.090],[181.29,8.084],[181.34,8.080],[181.39,8.086],[181.44,8.076],[181.49,8.088],[181.54,8.078],
[181.64,8.112],[181.69,8.130],[181.74,8.120],[181.79,8.127],[181.84,8.112],[181.89,8.130],[181.94,8.118],[181.99,8.130],
[182.04,8.075],[182.09,8.086],[182.14,8.074],[182.19,8.078],[182.24,8.086],[182.29,8.074],[182.34,8.078],[182.39,8.084],[182.44,8.076],[182.49,8.084],[182.54,8.072],[182.59,8.080],[182.69,8.082],[182.79,8.076],[182.89,8.068],[182.99,8.074],[183.09,8.072],[183.19,8.068],[183.24,8.082],
[183.31,8.128],[183.35,8.118],[183.39,8.122],[183.44,8.132],[183.49,8.128],[183.54,8.116],[183.59,8.124],[183.64,8.122],[183.69,8.124],[183.74,8.118],[183.79,8.128],[183.84,8.124],[183.89,8.112],[183.94,8.126],[183.99,8.112],[184.04,8.120],[184.09,8.110],
[184.29,8.128],[184.33,8.152],[184.37,8.144],[184.41,8.170],[184.45,8.156],[184.49,8.168],[184.53,8.170],[184.56,8.160],[184.59,8.178],[184.63,8.145],[184.67,8.140],[184.71,8.152],[184.74,8.128],[184.79,8.140],[184.83,8.172],[184.86,8.180],[184.89,8.170],[184.94,8.185],[185.11,8.124],[185.16,8.132],[185.21,8.126],[185.26,8.124],[185.31,8.118],[185.36,8.122],[185.41,8.126],
[186.38,8.222],[186.44,8.220],[186.48,8.222],[186.54,8.220],[186.58,8.212],[186.64,8.214],[186.68,8.220],[186.74,8.216],[186.78,8.210],[186.84,8.200],[186.88,8.198],[186.94,8.176],[186.99,8.186],[187.04,8.168],[187.09,8.172],[187.14,8.150],[187.19,8.162],[187.24,8.140],[187.29,8.152],[187.34,8.132],[187.39,8.142],[187.44,8.124],[187.49,8.134],[187.54,8.116],[187.59,8.126],
[187.64,8.108],[187.69,8.118],[187.74,8.112],[187.79,8.102],[187.84,8.112],[187.89,8.108],[187.94,8.098],[187.99,8.104],[188.04,8.118],[188.09,8.112],[188.14,8.098],[188.19,8.108],[188.24,8.104],[188.29,8.116],[188.34,8.126],[188.39,8.116],[188.44,8.128],[188.49,8.118],[188.54,8.122],[188.59,8.132],[188.64,8.122],[188.69,8.126],[188.74,8.134],[188.79,8.126],
[175.48,8.064],[175.53,8.058],[175.58,8.044],[175.63,8.060],[175.68,8.060],[175.73,8.046],[175.78,8.068],[175.83,8.058],[175.88,8.074],[175.93,8.082],[175.98,8.074],[176.03,8.088],[176.08,8.078],[176.13,8.090],[176.18,8.080],[176.23,8.092],[176.28,8.082],[176.33,8.094],[176.38,8.086],
[161.03,8.120],[161.06,8.112],[161.09,8.096],[161.13,8.108],[161.17,8.092],[161.21,8.108],[161.25,8.095],[161.29,8.114],[161.33,8.100],[161.37,8.110],[161.41,8.096],
[159.29,8.090],[159.39,8.094],[159.49,8.108],[159.59,8.104],[159.69,8.110],[159.79,8.098],[159.89,8.086],[159.99,8.094],[160.09,8.087],[160.19,8.090],[160.29,8.096],[160.39,8.112],[160.49,8.107],[160.59,8.112],[160.69,8.118]
];

// ---------- styles ----------
const regionColors = {1:'#F2DCDB',2:'#8064A2',3:'#E4DFEC',4:'#0070C0',5:'#00B050',6:'#92D050',7:'#FFC000',8:'#FF0000',9:'#C00000',10:'#C0504D',11:'#FCD5B4'};
const FONT = '"Liberation Sans", Arial, sans-serif';
const star = 'path://M0,-5 L1.9,-1.9 L5,0 L1.9,1.9 L0,5 L-1.9,1.9 L-5,0 L-1.9,-1.9 Z';
const gridCol = '#A6A6A6';

const chart = echarts.init(document.getElementById('c'), null, {renderer:'canvas'});
const xCommon = {type:'value', min:xTicks[0], max:xTicks[xTicks.length-1], interval:xTicks[1]-xTicks[0]};

chart.setOption({
  animation:false,
  backgroundColor:'#fff',
  grid:[
    {left:98, right:23, top:23.9, height:411.8},
    {left:100, right:21, top:458.3, height:370},
    {left:98, right:23, top:12, height:35}
  ],
  xAxis:[
    Object.assign({gridIndex:0, axisLine:{show:false}, axisTick:{show:false}, axisLabel:{show:false},
      splitLine:{show:true, lineStyle:{color:gridCol, width:1}}}, xCommon),
    Object.assign({gridIndex:1, axisLine:{show:true, lineStyle:{color:gridCol, width:1}},
      axisTick:{show:true, inside:false, length:6, lineStyle:{color:gridCol}},
      axisLabel:{show:true, margin:12, color:'#262626', fontSize:19, fontFamily:FONT},
      splitLine:{show:true, lineStyle:{color:gridCol, width:1}},
      name:'Julian Day', nameLocation:'middle', nameGap:33,
      nameTextStyle:{fontSize:20, fontWeight:'bold', fontFamily:FONT, color:'#262626'}}, xCommon),
    Object.assign({gridIndex:2, show:false}, xCommon)
  ],
  yAxis:[
    {gridIndex:0, type:'value', min:pco2Ticks[0], max:pco2AxisMax,
      axisLine:{show:true, lineStyle:{color:gridCol}},
      axisTick:{show:true, length:7, customValues:pco2Ticks, lineStyle:{color:gridCol}},
      axisLabel:{customValues:pco2Ticks, margin:20, color:'#262626', fontSize:19, fontFamily:FONT},
      splitLine:{show:false},
      name:'pCO{s|2} (µatm)', nameLocation:'middle', nameGap:50, nameRotate:90,
      nameTextStyle:{fontSize:20, fontWeight:'bold', fontFamily:FONT, color:'#000',
        rich:{s:{fontSize:13, fontWeight:'bold', fontFamily:FONT, verticalAlign:'bottom', padding:[12,0,0,0]}}}},
    {gridIndex:1, type:'value', min:phTicks[0], max:phAxisMax,
      axisLine:{show:true, lineStyle:{color:gridCol}},
      axisTick:{show:true, length:7, customValues:phTicks, lineStyle:{color:gridCol}},
      axisLabel:{customValues:phTicks, margin:20, color:'#262626', fontSize:19, fontFamily:FONT, formatter:v=>v.toFixed(2)},
      splitLine:{show:false},
      name:'pH', nameLocation:'middle', nameGap:52, nameRotate:90,
      nameTextStyle:{fontSize:20, fontWeight:'bold', fontFamily:FONT, color:'#000', padding:[0,0,0,66]}},
    {gridIndex:2, type:'value', min:0, max:1, show:false}
  ],
  graphic:[
    {type:'rect', left:2, top:12, shape:{width:98, height:35}, style:{fill:'#000'}, z:100},
    {type:'text', left:11, top:20, style:{text:'Regions:', fill:'#fff', font:'17px '+FONT}, z:101}
  ],
  series:[
    {type:'scatter', xAxisIndex:0, yAxisIndex:0, data:pco2Points, symbol:star, symbolSize:8,
      itemStyle:{color:'#7F7F7F'}, silent:true, large:false},
    {type:'scatter', xAxisIndex:1, yAxisIndex:1, data:phPoints, symbol:star, symbolSize:8,
      itemStyle:{color:'#000'}, silent:true, large:false},
    {type:'custom', xAxisIndex:2, yAxisIndex:2, z:20, silent:true,
      data: regionStart.map((s,i)=>[s, regionEnd[i], regionId[i]]),
      renderItem:(params, api)=>{
        const a = api.coord([api.value(0), 1]);
        const b = api.coord([api.value(1), 0]);
        const id = api.value(2);
        return {type:'group', children:[
          {type:'rect', shape:{x:a[0], y:a[1], width:b[0]-a[0], height:b[1]-a[1]},
            style:{fill:regionColors[id], stroke:'#404040', lineWidth:1}},
          {type:'text', style:{text:regionLabel[params.dataIndex], x:a[0]+10, y:(a[1]+b[1])/2+1,
            verticalAlign:'middle', fill:'#222', font:'15px '+FONT}}
        ]};
      }}
  ]
});
</script></body></html>
